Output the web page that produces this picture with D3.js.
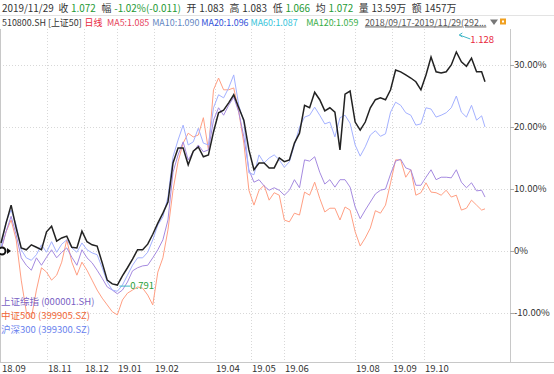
<!DOCTYPE html>
<html><head><meta charset="utf-8">
<script src="https://cdn.jsdelivr.net/npm/d3@7"></script>
<style>
body{margin:0;background:#fff}
svg{display:block}
text{font-family:"Microsoft YaHei","Noto Sans CJK SC","Noto Sans",sans-serif}
</style>
</head><body>
<svg id="c" width="554" height="374"></svg>
<script>
// trading-day index of each sample (0 = 2018/09/17)
const sampleDays = [0,3,6,9,12,15,18,21,24,27,30,33,36,39,42,45,48,51,54,57,60,63,66,69,72,75,78,81,84,87,90,93,96,99,
  102,105,108,111,114,117,120,123,126,129,132,135,138,141,144,147,150,153,156,159,162,165,168,171,174,177,180,183,186,189,
  192,195,198,201,204,207,210,213,216,219,222,225,228,231,234,237,240,243,246,249,252,255,258,261,264,267,270,273,276,279,282,285,287];
// % change since start
const etf510800 = [1.3,4.5,7.4,3.7,0.5,0.2,1.0,0.6,0.2,3.1,4.0,1.6,2.1,2.4,0.6,0.5,3.2,1.5,1.0,0.8,
  -1.9,-4.7,-5.3,-5.5,-4.0,-2.7,-1.3,0.2,0.2,1.1,2.7,4.5,6.1,7.9,14.2,16.6,16.6,13.9,16.1,16.8,
  15.2,15.5,19.2,22.3,22.7,23.9,25.2,23.1,21.1,16.3,13.1,14.2,14.2,13.4,13.4,15.0,14.4,14.7,17.4,19.0,
  23.5,23.1,25.6,24.4,22.6,23.1,22.4,16.3,25.3,25.8,20.8,19.5,20.8,23.1,24.4,24.7,24.4,26.0,29.2,28.9,
  28.4,27.9,27.3,26.0,28.4,31.3,28.9,28.7,28.9,30.0,32.1,30.5,29.8,31.1,28.9,28.9,27.3];
const sh000001 = [0.2,3.1,5.6,2.6,-1.1,-2.3,-3.1,-1.1,-2.3,-1.0,0.2,-1.1,-0.2,0.5,-1.0,-2.3,0.2,-1.1,-1.9,-3.1,
  -4.4,-5.8,-6.3,-6.9,-6.3,-5.0,-3.2,-2.7,-2.4,-2.3,-1.1,0.2,1.8,5.0,12.7,15.5,17.6,14.7,16.0,17.1,
  16.0,16.3,21.1,23.1,21.9,23.5,24.8,22.4,18.4,13.1,11.1,11.5,10.5,9.8,10.2,9.8,9.0,9.8,11.5,10.2,
  14.7,14.5,15.2,12.7,10.8,11.5,10.3,11.5,11.5,10.3,7.1,5.2,6.6,7.9,9.2,9.8,10.0,12.4,14.5,14.8,
  13.4,13.1,10.6,10.6,11.9,13.1,11.5,11.9,11.9,11.8,13.1,11.1,10.2,11.0,9.7,9.8,8.7];
const zz500 = [0.2,3.1,5.0,1.8,-4.7,-9.8,-10.8,-6.3,-2.7,-3.4,-4.7,-3.9,-1.8,1.8,-1.8,-3.9,-1.8,-3.1,-4.7,-6.3,
  -7.6,-8.7,-9.8,-10.3,-7.9,-6.8,-6.3,-5.8,-6.0,-7.1,-8.7,-3.4,-1.1,3.4,9.8,14.4,17.4,19.0,18.4,18.7,
  21.5,16.3,26.0,27.9,26.0,26.0,26.3,22.4,17.4,9.8,7.4,9.8,10.6,8.2,9.4,9.0,5.0,4.7,6.1,5.8,
  9.5,9.0,11.1,8.5,6.3,6.9,6.9,5.0,7.1,6.6,3.1,0.8,2.1,3.7,6.5,6.1,7.4,11.0,14.7,14.7,
  11.9,13.1,9.0,9.4,11.0,9.5,9.4,9.0,9.8,8.7,9.0,6.6,6.9,8.2,7.4,6.6,6.8];
const hs300 = [0.5,4.7,6.6,4.2,0.2,-1.1,-1.5,-0.6,1.0,-0.2,1.5,-0.2,1.1,1.8,0.5,-0.2,1.3,0.2,-0.3,-0.6,
  -2.7,-5.0,-6.3,-6.5,-5.5,-3.9,-2.3,-1.1,-1.1,-0.2,1.8,4.2,5.5,8.7,15.2,17.9,20.3,17.1,17.6,19.8,
  17.4,17.1,23.1,25.2,24.7,26.3,28.4,23.5,20.8,12.6,12.3,15.5,14.2,15.0,15.5,14.7,13.5,14.4,17.1,20.0,
  21.6,21.9,23.2,21.9,20.5,20.8,18.4,21.5,21.9,20.6,17.1,15.3,16.8,18.7,19.4,18.5,18.9,22.4,24.0,23.5,
  22.3,21.9,20.3,20.5,23.1,22.9,21.6,21.9,22.3,23.1,25.0,22.4,21.6,23.5,21.1,21.8,20.0];

const monthTickDays = [0,27,49,69,91,127,148,168,210,232,251];
const monthTickLabels = ["18.09","18.11","18.12","19.01","19.02","19.04","19.05","19.06","19.08","19.09","19.10"];
const yTickValues = [30,20,10,0,-10];
const yTickLabels = ["30.00%","20.00%","10.00%","0%","-10.00%"];
const legendNames = ["上证综指 (000001.SH)","中证500 (399905.SZ)","沪深300 (399300.SZ)"];
const maxLabel = "1.128", minLabel = "0.791";
const header1 = [["2019/11/29","#333"],["收","#333"],["1.072","#1e9a34"],["幅","#333"],["-1.02%(-0.011)","#1e9a34"],
  ["开","#333"],["1.083","#333"],["高","#333"],["1.083","#333"],["低","#333"],["1.066","#1e9a34"],
  ["均","#333"],["1.072","#1e9a34"],["量","#333"],["13.59万","#333"],["额","#333"],["1457万","#333"]];
const header2 = [["510800.SH [上证50]","#333"],["日线","#e8283c"],["MA5:1.085","#e6405a"],["MA10:1.090","#5f86c2"],
  ["MA20:1.096","#2f4fd8"],["MA60:1.087","#33c3d9"],["MA120:1.059","#36ad45"],["2018/09/17-2019/11/29(292...","#555"]];

const svg = d3.select("#c");
const W = 554, H = 374;
svg.append("rect").attr("width",W).attr("height",H).attr("fill","#fff");

const x = d3.scaleLinear().domain([0,287]).range([1,485]);
const y = d3.scaleLinear().domain([-10,30]).range([313,65]);
const plotTop = 29, plotBottom = 362, plotRight = 510;

// header: flowing text, shrunk to fit the reference's extent
function flow(segs, gaps, startX, yPos, fontSize, targetEnd) {
  const g = svg.append("g");
  const texts = segs.map(d=>g.append("text").attr("y",yPos).attr("fill",d[1]).attr("font-size",fontSize).text(d[0]));
  const layout = (k) => { let cx = startX; texts.forEach((t,i)=>{ t.attr("x",cx); cx += t.node().getComputedTextLength() + gaps[i]*k; }); return cx; };
  let end = layout(1);
  if (end > targetEnd) {
    const k = (targetEnd - startX) / (end - startX);
    texts.forEach(t=>t.attr("font-size",fontSize*k));
    layout(k);
  }
  return texts;
}
svg.append("line").attr("x1",0).attr("x2",W).attr("y1",15.5).attr("y2",15.5).attr("stroke","#e3e3e3");
flow(header1,[5,3,6,3,6,3,6,3,6,3,6,3,6,3,6,3,0],2,11.5,10.5,457);
const t2 = flow(header2,[3,5,3,2,2,9,7,0],2,25.5,9.5,487);
t2[t2.length-1].attr("text-decoration","underline");
svg.append("path").attr("d","M490,19.5L498,19.5L494,25Z").attr("fill","#777");
svg.append("rect").attr("x",500).attr("y",18.5).attr("width",6).attr("height",6).attr("fill","#f0a020");
svg.append("rect").attr("x",502).attr("y",20.5).attr("width",2).attr("height",2).attr("fill","#fff");

// grid
const grid = svg.append("g").attr("stroke","#d8d8d8").attr("stroke-dasharray","1,2");
yTickValues.forEach(v=>grid.append("line").attr("x1",0).attr("x2",plotRight).attr("y1",Math.round(y(v))+0.5).attr("y2",Math.round(y(v))+0.5));
monthTickDays.forEach((d,i)=>{ if(i>0) grid.append("line").attr("x1",Math.round(x(d))+0.5).attr("x2",Math.round(x(d))+0.5).attr("y1",plotTop).attr("y2",plotBottom); });

// frame
svg.append("line").attr("x1",0.5).attr("x2",0.5).attr("y1",plotTop).attr("y2",plotBottom).attr("stroke","#c8c8c8");
svg.append("line").attr("x1",plotRight+0.5).attr("x2",plotRight+0.5).attr("y1",plotTop).attr("y2",plotBottom).attr("stroke","#c8c8c8");
svg.append("line").attr("x1",0).attr("x2",W).attr("y1",plotBottom+0.5).attr("y2",plotBottom+0.5).attr("stroke","#c8c8c8");

// y axis labels
const ya = svg.append("g").attr("font-size",9.5).attr("fill","#333");
yTickValues.forEach((v,i)=>{
  ya.append("line").attr("x1",plotRight).attr("x2",plotRight+4).attr("y1",Math.round(y(v))+0.5).attr("y2",Math.round(y(v))+0.5).attr("stroke","#aaa");
  ya.append("text").attr("x",plotRight+4).attr("y",y(v)).attr("dy","0.35em").text(yTickLabels[i]);
});
// x axis labels and small ticks
const xa = svg.append("g").attr("font-size",9.5).attr("fill","#333");
monthTickDays.forEach((d,i)=>xa.append("text").attr("x",Math.round(x(d))+1).attr("y",372).text(monthTickLabels[i]));

// lines
const line = arr => d3.line().x((d,i)=>x(sampleDays[i])).y(d=>y(d))(arr);
svg.append("clipPath").attr("id","pc").append("rect").attr("x",0).attr("y",plotTop).attr("width",plotRight).attr("height",plotBottom-plotTop);
const plot = svg.append("g").attr("clip-path","url(#pc)");
plot.append("path").attr("d",line(zz500)).attr("fill","none").attr("stroke","#ff9f83").attr("stroke-width",1);
plot.append("path").attr("d",line(sh000001)).attr("fill","none").attr("stroke","#a58ae0").attr("stroke-width",1);
plot.append("path").attr("d",line(hs300)).attr("fill","none").attr("stroke","#a4b1ff").attr("stroke-width",1);
plot.append("path").attr("d",line(etf510800)).attr("fill","none").attr("stroke","#222").attr("stroke-width",1.5);

// start marker
svg.append("circle").attr("cx",2).attr("cy",y(0)).attr("r",3.5).attr("fill","#fff").attr("stroke","#111").attr("stroke-width",2);
svg.append("path").attr("d",`M7,${y(0)-3}L11,${y(0)}L7,${y(0)+3}Z`).attr("fill","#111");

// max / min markers
const iMax = d3.maxIndex(etf510800), iMin = d3.minIndex(etf510800);
const mx = x(sampleDays[iMax]), my = y(etf510800[iMax]);
svg.append("path").attr("d",`M${mx+3},${my-17}L${mx+14},${my-13}`).attr("stroke","#3fb7c7").attr("fill","none");
svg.append("path").attr("d",`M${mx+3},${my-17}L${mx+6},${my-19}M${mx+3},${my-17}L${mx+6},${my-15}`).attr("stroke","#3fb7c7").attr("fill","none");
svg.append("text").attr("x",mx+14).attr("y",my-12).attr("dy","0.35em").attr("font-size",9.5).attr("fill","#e8283c").text(maxLabel);
const nx = x(sampleDays[iMin]), ny = y(etf510800[iMin]);
svg.append("line").attr("x1",nx+2).attr("x2",nx+13).attr("y1",ny+1).attr("y2",ny+1).attr("stroke","#3fb7c7");
svg.append("text").attr("x",nx+13).attr("y",ny+1).attr("dy","0.35em").attr("font-size",9.5).attr("fill","#2a9d3a").text(minLabel);

// legend
const legendColors = ["#7a5fc4","#f0683a","#6a82ee"];
const lg = svg.append("g").attr("font-size",9.5);
legendNames.forEach((n,i)=>lg.append("text").attr("x",1).attr("y",302+i*14).attr("dy","0.35em").attr("fill",legendColors[i]).text(n));
</script>
</body></html>
